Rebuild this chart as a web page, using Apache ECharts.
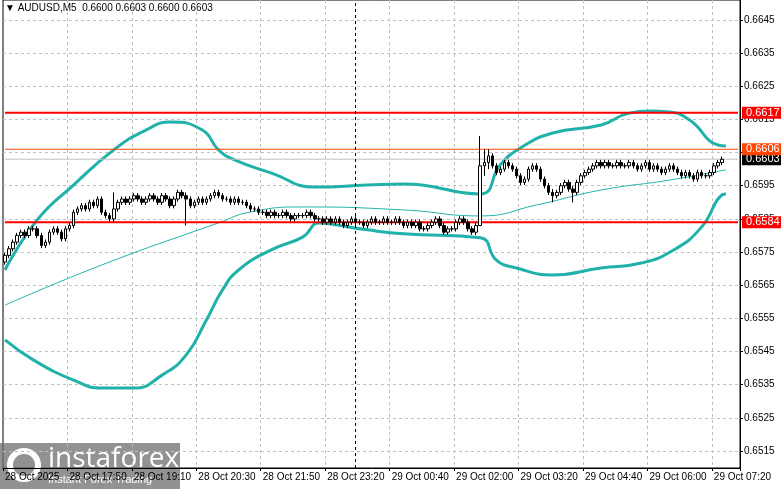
<!DOCTYPE html>
<html><head><meta charset="utf-8">
<script src="https://cdn.jsdelivr.net/npm/echarts@6/dist/echarts.min.js"></script>
<style>html,body{margin:0;padding:0;background:#fff}#c{width:781px;height:489px}</style>
</head><body><div id="c"></div>
<script>
const timeLabels = ["28 Oct 2025","28 Oct 17:50","28 Oct 19:10","28 Oct 20:30","28 Oct 21:50","28 Oct 23:20","29 Oct 00:40","29 Oct 02:00","29 Oct 03:20","29 Oct 04:40","29 Oct 06:00","29 Oct 07:20"];
const priceTicks = [0.6515,0.6525,0.6535,0.6545,0.6555,0.6565,0.6575,0.6585,0.6595,0.6605,0.6615,0.6625,0.6635,0.6645];
const firstOpen = 0.6572;
const closes = [
.6574,.6576,.6578,.6580,.6581,.6580,.6582,.6582,.6580,.6577,.6578,.6581,.6582,.6581,.6579,.6582,.6583,
.6587,.6588,.6589,.6588,.6590,.6589,.6591,.6587,.6586,.6585,.6588,.6590,.6591,.6590,
.6591,.6592,.6591,.6590,.6591,.6592,.6591,.6590,.6592,.6591,.6589,.6591,.6593,.6592,.6591,.6589,.6590,.6591,.6590,.6591,.6592,.6593,.6592,.6591,.6591,.6590,.6591,.6590,.6590,.6589,.6588,
.6588,.6587,.6587,.6586,.6587,.6586,.6586,.6587,.6586,.6585,.6586,.6586,.6586,.6587,.6586,.6585,.6585,.6584,.6585,
.6584,.6585,.6584,.6583,.6584,.6585,.6584,.6584,.6583,.6584,.6585,.6584,.6584,.6585,.6584,.6584,.6585,.6584,.6583,.6584,
.6583,.6584,.6582,.6582,.6583,.6584,.6585,.6583,.6581,.6582,.6582,.6584,.6585,.6584,.6582,.6581,.6583,
.6601,
.6602,.6604,.6601,.6599,.6600,.6602,.6601,.6600,.6598,.6596,.6597,.6600,.6601,.6600,.6597,.6595,.6593,
.6592,.6593,.6595,.6596,.6594,.6593,.6596,.6598,.6599,.6600,.6601,.6602,.6601,.6602,.6601,
.6601,.6602,.6601,.6601,.6602,.6601,.6600,.6601,.6602,.6600,.6601,.6600,.6599,.6600,.6601,.6600,.6599,.6598,.6599,.6598,
.6597,.6599,.6598,.6598,.6599,.6601,.6602,.6603];
const spikes = {118:[0.6610,0.6583],119:[0.6606,0.6598],120:[0.6606,0.6600],27:[0.6593,0.6584],45:[0.6593,0.6583],136:[0.6594,0.6590],141:[0.6595,0.6590]};
const upperBand = [[0,.65696],[8,.65847],[17,.65952],[27,.66058],[35,.66118],[41,.66142],[49,.66118],[53,.66058],[57,.66028],[66,.65989],[77,.65946],[90,.65952],[99,.65955],[118,.65925],[123,.66013],[128,.66064],[136,.66109],[148,.66133],[155,.66169],[160,.66175],[165,.66172],[170,.66148],[177,.66073],[179,.6607]];
const lowerBand = [[0,.65485],[7,.65425],[17,.65364],[24,.6534],[32,.6534],[39,.65379],[45,.6544],[50,.65545],[54,.65636],[58,.65696],[66,.65756],[74,.65796],[78,.65838],[82,.65832],[90,.65817],[99,.65805],[118,.65793],[122,.65726],[127,.65702],[136,.65681],[148,.65702],[158,.65717],[166,.65756],[173,.65826],[178,.65922],[179,.65925]];
const slowMA = [[0,.6559],[24,.65711],[53,.65838],[61,.65871],[74,.65886],[99,.65877],[118,.65859],[132,.65892],[148,.65937],[165,.65967],[179,.65998]];
const levels = [{v:0.6603,c:'#c0c0c0',w:1,bg:'#000000'},{v:0.6606,c:'#ff4500',w:1,bg:'#ff4500'},{v:0.6617,c:'#ff0000',w:2,bg:'#ff0000'},{v:0.6584,c:'#ff0000',w:2,bg:'#ff0000'}];

const N = 183;
const cats = [];
for (let i=0;i<N;i++) cats.push(i%16===0 && timeLabels[i/16] ? timeLabels[i/16] : '');
const ohlc = closes.map((c,i)=>{
  const o = i===0 ? firstOpen : closes[i-1];
  let h = Math.max(o,c)+0.00008, l = Math.min(o,c)-0.00008;
  if (spikes[i]) { h = spikes[i][0]; l = spikes[i][1]; }
  return [o,c,l,h];
});
const F = 'Liberation Sans';
const levelSeries = levels.map(l=>({type:'line',data:[[0,l.v],[N-1,l.v]],symbol:'none',silent:true,z:3,
  lineStyle:{color:l.c,width:l.w},
  endLabel:{show:true,formatter:l.v.toFixed(4),color:'#fff',backgroundColor:l.bg,fontFamily:F,fontSize:11,padding:[1,4,0,4],distance:4}}));
const chart = echarts.init(document.getElementById('c'));
chart.setOption({
  animation:false,
  grid:{left:3,right:41,top:0,bottom:21,show:true,borderColor:'#000',borderWidth:1},
  xAxis:{type:'category',data:cats,boundaryGap:true,
    axisLine:{lineStyle:{color:'#000'}},
    axisTick:{show:true,interval:i=>i%16===0,lineStyle:{color:'#000'},length:3},
    axisLabel:{interval:i=>i%16===0,hideOverlap:false,color:'#000',fontFamily:F,fontSize:10,align:'left',margin:4},
    splitLine:{show:true,interval:i=>i%16===0 && i>0,lineStyle:{color:'#c0c0c0',type:[3,3]}}},
  yAxis:{type:'value',position:'right',min:0.65099,max:0.66510,scale:true,
    axisLine:{show:true,lineStyle:{color:'#000'}},
    axisTick:{show:true,customValues:priceTicks,length:3,lineStyle:{color:'#000'}},
    axisLabel:{customValues:priceTicks,formatter:v=>v.toFixed(4),color:'#000',fontFamily:F,fontSize:10,margin:4},
    splitLine:{show:true,lineStyle:{color:'#c0c0c0',type:[3,3]}}},
  series:[
    {type:'line',data:slowMA,symbol:'none',smooth:true,lineStyle:{color:'#20b2aa',width:1},z:2},
    {type:'line',data:upperBand,symbol:'none',smooth:true,lineStyle:{color:'#20b2aa',width:3},z:2},
    {type:'line',data:lowerBand,symbol:'none',smooth:true,lineStyle:{color:'#20b2aa',width:3},z:2,
      markLine:{silent:true,symbol:'none',label:{show:false},data:[{xAxis:87,lineStyle:{color:'#000',width:1,type:[3,3]}}]}},
    {type:'candlestick',data:ohlc,barWidth:3,z:5,
      itemStyle:{color:'#fff',borderColor:'#000',color0:'#000',borderColor0:'#000',borderWidth:1}}
  ].concat(levelSeries),
  graphic:[
    {type:'text',left:5,top:3,style:{text:'▼ AUDUSD,M5  0.6600 0.6603 0.6600 0.6603',font:'10px Liberation Sans',fill:'#000'}},
    {type:'group',left:0,top:443,children:[
      {type:'rect',shape:{x:0,y:0,width:180,height:46},style:{fill:'rgba(110,110,110,0.75)'}},
      {type:'text',x:48,y:2,style:{text:'instaforex',font:'28px Open Sans',fill:'#fff'}},
      {type:'text',x:48,y:31,style:{text:'Instant Forex Trading',font:'11px Liberation Sans',fill:'#fff'}},
      {type:'circle',shape:{cx:24,cy:22,r:14},style:{fill:'none',stroke:'#fff',lineWidth:6}}
    ]}
  ]
});
</script></body></html>
